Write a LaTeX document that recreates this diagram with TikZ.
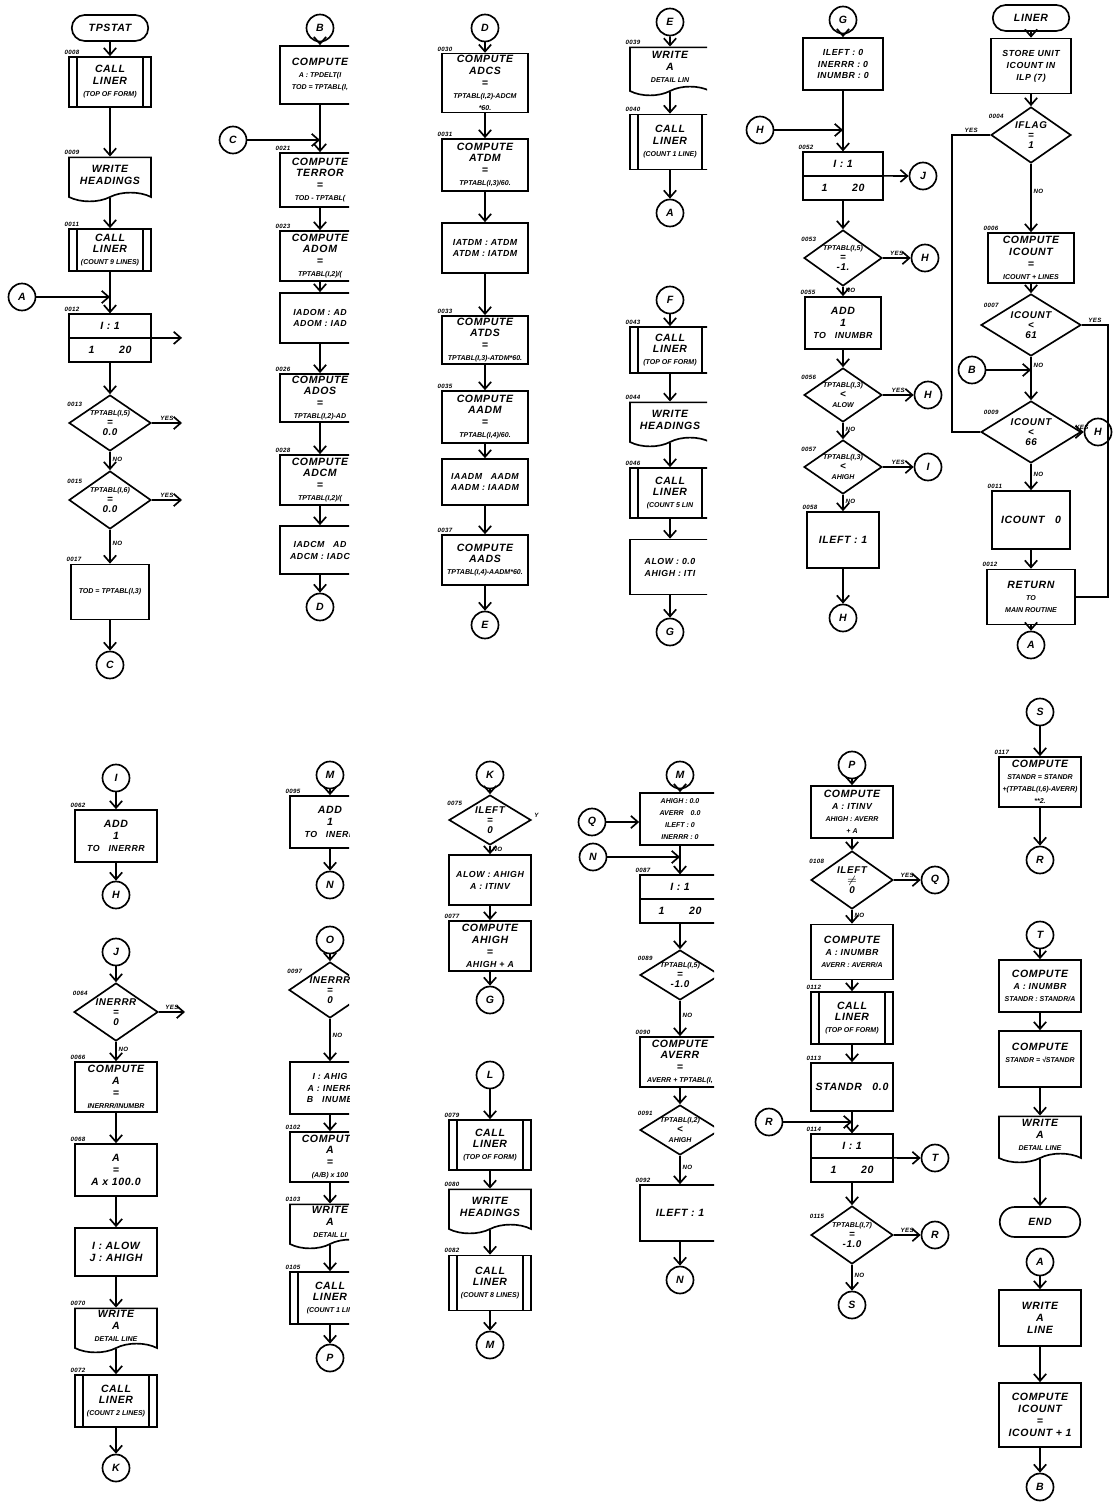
\documentclass[tikz,border=0pt]{standalone}
\usepackage{fontspec}
\setsansfont{Liberation Sans}[LetterSpace = 6]
\usetikzlibrary{arrows.meta, positioning, shapes.geometric, shapes.misc, shapes.symbols, shapes.multipart}

\newcommand{\hand}{\sffamily\bfseries\itshape\fontsize{6}{6.8}\selectfont}
\newcommand{\md}{\fontsize{5}{6}\selectfont}
\newcommand{\sm}{\fontsize{4}{4.8}\selectfont\addfontfeature{LetterSpace = 0}}

\begin{document}
\begin{tikzpicture}[
        x = 0.02cm, y = -0.02cm,
        line width = 0.95pt,
        >= {Straight Barb[length = 4pt, width = 7pt]},
        every node/.style = {font = \hand, align = center, inner sep = 1pt},
        boxw/.style = {minimum width = #1*0.02cm},
        boxh/.style = {minimum height = #1*0.02cm},
        proc/.style = {draw, rectangle, boxw = 82},
        call/.style = {proc, path picture = {
            \draw ([xshift = 4.5pt]path picture bounding box.north west) -- ([xshift = 4.5pt]path picture bounding box.south west)
                  ([xshift = -4.5pt]path picture bounding box.north east) -- ([xshift = -4.5pt]path picture bounding box.south east);}},
        doc/.style = {draw, tape, tape bend top = none, tape bend bottom = in and out, tape bend height = 5pt, boxw = 82},
        dec/.style = {draw, diamond, aspect = 1.5, inner sep = -3pt, boxw = 82, boxh = 56, font = \hand\fontsize{5.6}{5.8}\selectfont},
        conn/.style = {draw, circle, minimum size = 0.54cm, inner sep = 0pt},
        term/.style = {draw, rounded rectangle, boxw = 80, boxh = 26},
        loopbox/.style = {draw, rectangle split, rectangle split parts = 2, boxw = 82, inner ysep = 4.2pt},
        numlbl/.style = {font = \hand\fontsize{3.5}{4}\selectfont, anchor = south west, xshift = -3pt, inner sep = 0.5pt},
        nr/.style = {label = {[numlbl]north west:#1}},
        dnr/.style = {label = {[numlbl, anchor = south east, xshift = 0pt]north west:#1}},
        yn/.style = {font = \hand\fontsize{3.5}{4}\selectfont, inner sep = 1pt}
    ]

    \fill[white] (0,0) rectangle (1117,1503);
    \useasboundingbox (0,0) rectangle (1117,1503);

    % first column, top: TPSTAT
    \node[term] (tpstat) at (110,28) {TPSTAT};
    \node[call, boxh = 50, nr = 0008] (call1) at (110,82) {CALL\\LINER\\{\sm (TOP OF FORM)}};
    \node[doc, boxh = 44, nr = 0009] (head1) at (110,175) {WRITE\\HEADINGS};
    \node[call, boxh = 42, nr = 0011] (call2) at (110,250) {CALL\\LINER\\{\sm (COUNT 9 LINES)}};
    \node[conn] (ca1) at (22,297) {A};
    \node[loopbox, nr = 0012] (loop1) at (110,338) {I : 1\nodepart{two}1\hspace{14pt}20};
    \node[dec, dnr = 0013] (tp5) at (110,423) {{\sm TPTABL(I,5)}\\=\\0.0};
    \node[dec, boxh = 58, dnr = 0015] (tp6) at (110,500) {{\sm TPTABL(I,6)}\\=\\0.0};
    \node[proc, boxw = 78, boxh = 55, nr = 0017] (tod1) at (110,592) {{\sm TOD = TPTABL(I,3)}};
    \node[conn] (cc1) at (110,665) {C};
    \coordinate (cut1) at (182,0);

    \path[->]
        (tpstat) edge (call1)
        (call1) edge (head1)
        (head1) edge (call2)
        (call2) edge (loop1)
        (ca1) edge (ca1 -| loop1.north)
        (loop1.text split east) edge (loop1.text split east -| cut1)
        (loop1) edge (tp5)
        (tp5) edge node[yn, above] {YES} (tp5 -| cut1)
        (tp5) edge node[yn, right, pos = 0.4] {NO} (tp6)
        (tp6) edge node[yn, above] {YES} (tp6 -| cut1)
        (tp6) edge node[yn, right, pos = 0.4] {NO} (tod1)
        (tod1) edge (cc1);

    % first column, bottom
    \node[conn] (ci1) at (116,778) {I};
    \node[proc, boxh = 52, nr = 0062] (add1) at (116,836) {ADD\\1\\{\md TO\quad INERRR}};
    \node[conn] (ch1) at (116,895) {H};
    \node[conn] (cj1) at (116,952) {J};
    \node[dec, boxw = 84, boxh = 58, dnr = 0064] (nerr1) at (116,1012) {INERRR\\=\\0};
    \node[proc, boxh = 50, nr = 0066] (pa1) at (116,1087) {COMPUTE\\A\\=\\{\sm INERRR/INUMBR}};
    \node[proc, boxh = 52, nr = 0068] (pb1) at (116,1170) {A\\=\\A x 100.0};
    \node[proc, boxh = 48] (ij1) at (116,1252) {I : ALOW\\J : AHIGH};
    \node[doc, boxh = 44, nr = 0070] (det1) at (116,1326) {WRITE\\A\\{\sm DETAIL LINE}};
    \node[call, boxh = 52, nr = 0072] (call3) at (116,1401) {CALL\\LINER\\{\sm (COUNT 2 LINES)}};
    \node[conn] (ck1) at (116,1468) {K};
    \coordinate (cut2) at (185,0);

    \path[->]
        (ci1) edge (add1)
        (add1) edge (ch1)
        (cj1) edge (nerr1)
        (nerr1) edge node[yn, above] {YES} (nerr1 -| cut2)
        (nerr1) edge node[yn, right, pos = 0.4] {NO} (pa1)
        (pa1) edge (pb1)
        (pb1) edge (ij1)
        (ij1) edge (det1)
        (det1) edge (call3)
        (call3) edge (ck1);

    % second column
    \begin{scope}
        \clip (200,0) rectangle (349,1503);

        \node[conn] (cb2) at (320,28) {B};
        \node[proc, boxw = 80, boxh = 58] (tpd2) at (320,75) {COMPUTE\\{\sm A : TPDELT(I}\\{\sm TOD = TPTABL(I,}};
        \node[conn] (cc2) at (233,140) {C};
        \node[proc, boxw = 80, boxh = 54, nr = 0021] (terr2) at (320,180) {COMPUTE\\TERROR\\=\\{\sm TOD - TPTABL(}};
        \node[proc, boxw = 80, boxh = 50, nr = 0023] (adom2) at (320,256) {COMPUTE\\ADOM\\=\\{\sm TPTABL(I,2)/(}};
        \node[proc, boxw = 80, boxh = 50] (iadom2) at (320,318) {{\md IADOM : AD}\\{\md ADOM : IAD}};
        \node[proc, boxw = 80, boxh = 48, nr = 0026] (ados2) at (320,398) {COMPUTE\\ADOS\\=\\{\sm TPTABL(I,2)-AD}};
        \node[proc, boxw = 80, boxh = 50, nr = 0028] (adcm2) at (320,480) {COMPUTE\\ADCM\\=\\{\sm TPTABL(I,2)/(}};
        \node[proc, boxw = 80, boxh = 48] (iadcm2) at (320,550) {{\md IADCM\quad AD}\\{\md ADCM : IADC}};
        \node[conn] (cd2) at (320,607) {D};

        \path[->]
            (cb2) edge (tpd2)
            (tpd2) edge (terr2)
            (cc2) edge (cc2 -| terr2.north)
            (terr2) edge (adom2)
            (adom2) edge (iadom2)
            (iadom2) edge (ados2)
            (ados2) edge (adcm2)
            (adcm2) edge (iadcm2)
            (iadcm2) edge (cd2);

        \node[conn] (cm2) at (330,775) {M};
        \node[proc, boxw = 80, boxh = 52, nr = 0095] (add2) at (330,822) {ADD\\1\\{\md TO\quad INERR}};
        \node[conn] (cn2) at (330,885) {N};
        \node[conn] (co2) at (330,940) {O};
        \node[dec, dnr = 0097] (nerr2) at (330,990) {INERRR\\=\\0};
        \node[proc, boxw = 80, boxh = 52] (set2) at (330,1088) {{\md I : AHIG}\\{\md A : INERR}\\{\md B\quad INUMB}};
        \node[proc, boxw = 80, boxh = 50, nr = 0102] (pct2) at (330,1157) {COMPUTE\\A\\=\\{\sm (A/B) x 100}};
        \node[doc, boxw = 80, boxh = 44, nr = 0103] (det2) at (330,1222) {WRITE\\A\\{\sm DETAIL LI}};
        \node[call, boxw = 80, boxh = 52, nr = 0105] (call4) at (330,1298) {CALL\\LINER\\{\sm (COUNT 1 LIN}};
        \node[conn] (cp2) at (330,1358) {P};

        \path[->]
            (cm2) edge (add2)
            (add2) edge (cn2)
            (co2) edge (nerr2)
            (nerr2) edge node[yn, right, pos = 0.4] {NO} (set2)
            (set2) edge (pct2)
            (pct2) edge (det2)
            (det2) edge (call4)
            (call4) edge (cp2);
    \end{scope}

    % third column
    \node[conn] (cd3) at (485,28) {D};
    \node[proc, boxw = 86, boxh = 54, nr = 0030] (adcs3) at (485,83) {COMPUTE\\ADCS\\=\\{\sm TPTABL(I,2)-ADCM}\\{\sm *60.}};
    \node[proc, boxw = 86, boxh = 52, nr = 0031] (atdm3) at (485,165) {COMPUTE\\ATDM\\=\\{\sm TPTABL(I,3)/60.}};
    \node[proc, boxw = 86, boxh = 50] (iatdm3) at (485,248) {{\md IATDM : ATDM}\\{\md ATDM : IATDM}};
    \node[proc, boxw = 86, boxh = 48, nr = 0033] (atds3) at (485,340) {COMPUTE\\ATDS\\=\\{\sm TPTABL(I,3)-ATDM*60.}};
    \node[proc, boxw = 86, boxh = 52, nr = 0035] (aadm3) at (485,417) {COMPUTE\\AADM\\=\\{\sm TPTABL(I,4)/60.}};
    \node[proc, boxw = 86, boxh = 46] (iaadm3) at (485,482) {{\md IAADM\quad AADM}\\{\md AADM : IAADM}};
    \node[proc, boxw = 86, boxh = 50, nr = 0037] (aads3) at (485,560) {COMPUTE\\AADS\\{\sm TPTABL(I,4)-AADM*60.}};
    \node[conn] (ce3) at (485,625) {E};

    \path[->]
        (cd3) edge (adcs3)
        (adcs3) edge (atdm3)
        (atdm3) edge (iatdm3)
        (iatdm3) edge (atds3)
        (atds3) edge (aadm3)
        (aadm3) edge (iaadm3)
        (iaadm3) edge (aads3)
        (aads3) edge (ce3);

    \node[conn] (ck3) at (490,775) {K};
    \node[dec, boxh = 50, dnr = 0075, label = {[yn, anchor = south west]east:Y}] (left3) at (490,820) {ILEFT\\=\\0};
    \node[proc, boxh = 50] (alow3) at (490,880) {{\md ALOW : AHIGH}\\{\md A : ITINV}};
    \node[proc, boxh = 50, nr = 0077] (ahigh3) at (490,946) {COMPUTE\\AHIGH\\=\\{\md AHIGH + A}};
    \node[conn] (cg3) at (490,1000) {G};
    \node[conn] (cl3) at (490,1075) {L};
    \node[call, boxh = 50, nr = 0079] (call5) at (490,1145) {CALL\\LINER\\{\sm (TOP OF FORM)}};
    \node[doc, boxh = 44, nr = 0080] (head3) at (490,1207) {WRITE\\HEADINGS};
    \node[call, boxh = 55, nr = 0082] (call6) at (490,1283) {CALL\\LINER\\{\sm (COUNT 8 LINES)}};
    \node[conn] (cm3) at (490,1345) {M};

    \path[->]
        (ck3) edge (left3)
        (left3) edge node[yn, right, pos = 0.4] {NO} (alow3)
        (alow3) edge (ahigh3)
        (ahigh3) edge (cg3)
        (cl3) edge (call5)
        (call5) edge (head3)
        (head3) edge (call6)
        (call6) edge (cm3);

    % fourth column
    \begin{scope}
        \clip (560,0) rectangle (707,760) (560,760) rectangle (714,1503);

        \node[conn] (ce4) at (670,22) {E};
        \node[doc, boxw = 80, boxh = 48, nr = 0039] (det4) at (670,67) {WRITE\\A\\{\sm DETAIL LIN}};
        \node[call, boxw = 80, boxh = 55, nr = 0040] (call7) at (670,142) {CALL\\LINER\\{\sm (COUNT 1 LINE)}};
        \node[conn] (ca4) at (670,213) {A};
        \node[conn] (cf4) at (670,300) {F};
        \node[call, boxw = 80, boxh = 46, nr = 0043] (call8) at (670,350) {CALL\\LINER\\{\sm (TOP OF FORM)}};
        \node[doc, boxw = 80, boxh = 44, nr = 0044] (head4) at (670,420) {WRITE\\HEADINGS};
        \node[call, boxw = 80, boxh = 50, nr = 0046] (call9) at (670,493) {CALL\\LINER\\{\sm (COUNT 5 LIN}};
        \node[proc, boxw = 80, boxh = 55] (lim4) at (670,567) {{\md ALOW : 0.0}\\{\md AHIGH : ITI}};
        \node[conn] (cg4) at (670,632) {G};

        \path[->]
            (ce4) edge (det4)
            (det4) edge (call7)
            (call7) edge (ca4)
            (cf4) edge (call8)
            (call8) edge (head4)
            (head4) edge (call9)
            (call9) edge (lim4)
            (lim4) edge (cg4);

        \node[conn] (cm4) at (680,775) {M};
        \node[proc, boxw = 80, boxh = 52] (init4) at (680,819) {{\sm AHIGH : 0.0}\\{\sm AVERR\quad 0.0}\\{\sm ILEFT : 0}\\{\sm INERRR : 0}};
        \node[conn] (cq4) at (592,822) {Q};
        \node[conn] (cn4) at (593,857) {N};
        \node[loopbox, boxw = 80, nr = 0087] (loop4) at (680,899) {I : 1\nodepart{two}1\hspace{14pt}20};
        \node[dec, boxw = 80, boxh = 50, dnr = 0089] (tp4) at (680,975) {{\sm TPTABL(I,5)}\\=\\-1.0};
        \node[proc, boxw = 80, boxh = 50, nr = 0090] (avr4) at (680,1062) {COMPUTE\\AVERR\\=\\{\sm AVERR + TPTABL(I,}};
        \node[dec, boxw = 80, boxh = 50, dnr = 0091] (hi4) at (680,1130) {{\sm TPTABL(I,2)}\\<\\{\sm AHIGH}};
        \node[proc, boxw = 80, boxh = 56, nr = 0092] (lft4) at (680,1213) {ILEFT : 1};
        \node[conn] (cn4b) at (680,1280) {N};

        \path[->]
            (cm4) edge (init4)
            (cq4) edge (cq4 -| init4.west)
            (init4) edge (loop4)
            (cn4) edge (cn4 -| loop4.north)
            (loop4) edge (tp4)
            (tp4) edge node[yn, right, pos = 0.4] {NO} (avr4)
            (avr4) edge (hi4)
            (hi4) edge node[yn, right, pos = 0.4] {NO} (lft4)
            (lft4) edge (cn4b);
    \end{scope}

    % fifth column
    \node[conn] (cg5) at (843,20) {G};
    \node[proc, boxw = 80, boxh = 52] (zero5) at (843,64) {{\md ILEFT : 0}\\{\md INERRR : 0}\\{\md INUMBR : 0}};
    \node[conn] (ch5) at (760,130) {H};
    \node[loopbox, boxw = 80, nr = 0052] (loop5) at (843,176) {I : 1\nodepart{two}1\hspace{14pt}20};
    \node[conn] (cj5) at (923,176) {J};
    \node[dec, boxw = 78, dnr = 0053] (neg5) at (843,258) {{\sm TPTABL(I,5)}\\=\\-1.};
    \node[conn] (ch5a) at (925,258) {H};
    \node[proc, boxw = 76, boxh = 52, nr = 0055] (add5) at (843,323) {ADD\\1\\{\md TO\quad INUMBR}};
    \node[dec, boxw = 78, boxh = 54, dnr = 0056] (low5) at (843,395) {{\sm TPTABL(I,3)}\\<\\{\sm ALOW}};
    \node[conn] (ch5b) at (928,395) {H};
    \node[dec, boxw = 78, boxh = 54, dnr = 0057] (high5) at (843,467) {{\sm TPTABL(I,3)}\\<\\{\sm AHIGH}};
    \node[conn] (ci5) at (928,467) {I};
    \node[proc, boxw = 72, boxh = 56, nr = 0058] (lft5) at (843,540) {ILEFT : 1};
    \node[conn] (ch5c) at (843,618) {H};

    \path[->]
        (cg5) edge (zero5)
        (zero5) edge (loop5)
        (ch5) edge (ch5 -| loop5.north)
        (loop5.text split east) edge (cj5)
        (loop5) edge (neg5)
        (neg5) edge node[yn, above] {YES} (ch5a)
        (neg5) edge node[yn, right, pos = 0.4] {NO} (add5)
        (add5) edge (low5)
        (low5) edge node[yn, above] {YES} (ch5b)
        (low5) edge node[yn, right, pos = 0.4] {NO} (high5)
        (high5) edge node[yn, above] {YES} (ci5)
        (high5) edge node[yn, right, pos = 0.4] {NO} (lft5)
        (lft5) edge (ch5c);

    \node[conn] (cp5) at (852,765) {P};
    \node[proc, boxh = 52] (avg5) at (852,812) {COMPUTE\\{\md A : ITINV}\\{\sm AHIGH : AVERR}\\{\sm + A}};
    \node[dec, boxh = 58, dnr = 0108] (nz5) at (852,880) {ILEFT\\$\neq$\\0};
    \node[conn] (cq5) at (935,880) {Q};
    \node[proc, boxh = 55] (avg5b) at (852,952) {COMPUTE\\{\md A : INUMBR}\\{\sm AVERR : AVERR/A}};
    \node[call, boxh = 52, nr = 0112] (call10) at (852,1018) {CALL\\LINER\\{\sm (TOP OF FORM)}};
    \node[proc, boxh = 48, nr = 0113] (std5) at (852,1087) {STANDR\quad 0.0};
    \node[conn] (cr5) at (769,1122) {R};
    \node[loopbox, nr = 0114] (loop5b) at (852,1158) {I : 1\nodepart{two}1\hspace{14pt}20};
    \node[conn] (ct5) at (935,1158) {T};
    \node[dec, boxh = 58, dnr = 0115] (tp7) at (852,1235) {{\sm TPTABL(I,7)}\\=\\-1.0};
    \node[conn] (cr5b) at (935,1235) {R};
    \node[conn] (cs5) at (852,1305) {S};

    \path[->]
        (cp5) edge (avg5)
        (avg5) edge (nz5)
        (nz5) edge node[yn, above] {YES} (cq5)
        (nz5) edge node[yn, right, pos = 0.4] {NO} (avg5b)
        (avg5b) edge (call10)
        (call10) edge (std5)
        (std5) edge (loop5b)
        (cr5) edge (cr5 -| loop5b.north)
        (loop5b.text split east) edge (ct5)
        (loop5b) edge (tp7)
        (tp7) edge node[yn, above] {YES} (cr5b)
        (tp7) edge node[yn, right, pos = 0.4] {NO} (cs5);

    % sixth column: LINER
    \node[term] (liner) at (1031,18) {LINER};
    \node[proc, boxw = 80, boxh = 55] (store6) at (1031,66) {{\md STORE UNIT}\\{\md ICOUNT IN}\\{\md ILP (7)}};
    \node[dec, boxw = 80, boxh = 56, dnr = 0004] (flag6) at (1031,135) {IFLAG\\=\\1};
    \node[proc, boxw = 86, boxh = 50, nr = 0006] (cnt6) at (1031,258) {COMPUTE\\ICOUNT\\=\\{\sm ICOUNT + LINES}};
    \node[dec, boxw = 100, boxh = 62, dnr = 0007] (lt61) at (1031,325) {ICOUNT\\<\\61};
    \node[conn] (cb6) at (972,370) {B};
    \node[dec, boxw = 100, boxh = 62, dnr = 0009] (lt66) at (1031,432) {ICOUNT\\<\\66};
    \node[conn] (ch6) at (1098,432) {H};
    \node[proc, boxw = 78, boxh = 58, nr = 0011] (zero6) at (1031,520) {ICOUNT\quad 0};
    \node[proc, boxw = 88, boxh = 55, nr = 0012] (ret6) at (1031,597) {RETURN\\{\sm TO}\\{\sm MAIN ROUTINE}};
    \node[conn] (ca6) at (1031,645) {A};
    \coordinate (yesl) at (952,0);
    \coordinate (yesr) at (1108,0);

    \path[->]
        (liner) edge (store6)
        (store6) edge (flag6)
        (flag6) edge node[yn, right, pos = 0.4] {NO} (cnt6)
        (cnt6) edge (lt61)
        (lt61) edge (lt66)
        (cb6) edge node[yn, above right, pos = 1] {NO} (cb6 -| lt66.north)
        (lt66) edge node[yn, above, pos = 0] {YES} (ch6)
        (lt66) edge node[yn, right, pos = 0.4] {NO} (zero6)
        (zero6) edge (ret6)
        (ret6) edge (ca6);
    \draw (flag6.west) -- node[yn, above] {YES} (flag6.west -| yesl) -- (yesl |- lt66.west) -- (lt66.west);
    \draw (lt61.east) -- node[yn, above] {YES} (lt61.east -| yesr) -- (yesr |- ret6.east) -- (ret6.east);

    \node[conn] (cs6) at (1040,712) {S};
    \node[proc, boxh = 50, nr = 0117] (sum6) at (1040,782) {COMPUTE\\{\sm STANDR = STANDR}\\{\sm +(TPTABL(I,6)-AVERR)}\\{\sm **2.}};
    \node[conn] (cr6) at (1040,860) {R};
    \node[conn] (ct6) at (1040,935) {T};
    \node[proc, boxh = 52] (mean6) at (1040,986) {COMPUTE\\{\md A : INUMBR}\\{\sm STANDR : STANDR/A}};
    \node[proc, boxh = 56] (root6) at (1040,1059) {COMPUTE\\{\sm STANDR = √STANDR}\\ };
    \node[doc, boxh = 46] (det6) at (1040,1135) {WRITE\\A\\{\sm DETAIL LINE}};
    \node[term, boxw = 84, boxh = 30] (end6) at (1040,1222) {END};
    \node[conn] (ca6b) at (1040,1262) {A};
    \node[proc, boxh = 56] (line6) at (1040,1318) {WRITE\\A\\LINE};
    \node[proc, boxh = 64] (inc6) at (1040,1415) {COMPUTE\\ICOUNT\\=\\ICOUNT + 1};
    \node[conn] (cb6b) at (1040,1487) {B};

    \path[->]
        (cs6) edge (sum6)
        (sum6) edge (cr6)
        (ct6) edge (mean6)
        (mean6) edge (root6)
        (root6) edge (det6)
        (det6) edge (end6)
        (ca6b) edge (line6)
        (line6) edge (inc6)
        (inc6) edge (cb6b);

\end{tikzpicture}
\end{document}
